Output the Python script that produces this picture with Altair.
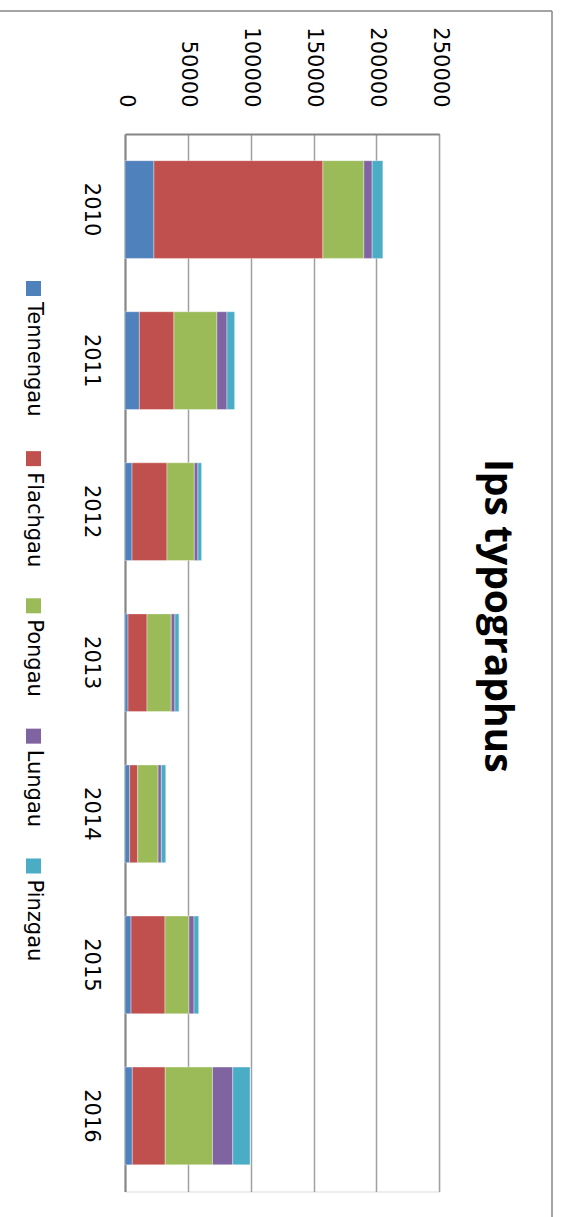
import altair as alt
import pandas as pd

# Bark beetle (Ips typographus) volumes per district and year
years = ["2010", "2011", "2012", "2013", "2014", "2015", "2016"]
regions = ["Tennengau", "Flachgau", "Pongau", "Lungau", "Pinzgau"]
colors = ["#4F81BD", "#C0504D", "#9BBB59", "#8064A2", "#4BACC6"]

tennengau = [23000, 11400, 5600, 2400, 3700, 4800, 5800]
flachgau = [134400, 27500, 27800, 15100, 6400, 27000, 26200]
pongau = [32600, 34200, 21700, 19300, 16200, 19100, 37600]
lungau = [6600, 8000, 2900, 2900, 2600, 4000, 16100]
pinzgau = [8500, 6100, 2900, 3200, 3500, 3700, 13800]

value_ticks = [0, 50000, 100000, 150000, 200000, 250000]

series = [tennengau, flachgau, pongau, lungau, pinzgau]
rows = []
for k, (name, vals) in enumerate(zip(regions, series)):
    for yr, v in zip(years, vals):
        rows.append({"year": yr, "region": name, "value": v, "order": k})
df = pd.DataFrame(rows)

# layout of the plot area
W, H = 314.3, 1057.5
PAD_L, PAD_T = 125, 134
FONT = "DejaVu Sans"
FS = 21
GRID = "#a0a0a0"
LINE = "#868686"

color_scale = alt.Scale(domain=regions, range=colors)

bars = alt.Chart(df).mark_bar(stroke="white", strokeWidth=0.6, strokeOpacity=0.6).encode(
    x=alt.X(
        "value:Q",
        stack="zero",
        scale=alt.Scale(domain=[0, 250000], nice=False),
        axis=alt.Axis(
            orient="top", values=value_ticks, format="d", title=None,
            labelAngle=90, labelAlign="right", labelBaseline="middle",
            labelPadding=27, tickSize=0, ticks=False, labelFlush=False,
            labelFont=FONT, labelFontSize=FS, labelColor="black",
            domainColor=LINE, domainWidth=2,
            grid=True, gridColor=GRID, gridWidth=1.5,
        ),
    ),
    y=alt.Y(
        "year:N",
        sort=years,
        scale=alt.Scale(paddingInner=0.353, paddingOuter=0.1765),
        axis=alt.Axis(
            title=None, labelAngle=90, labelAlign="center", labelBaseline="top",
            labelPadding=24, tickSize=0, ticks=False,
            labelFont=FONT, labelFontSize=FS, labelColor="black",
            domainColor=LINE, domainWidth=2, grid=False,
        ),
    ),
    color=alt.Color("region:N", scale=color_scale, legend=None),
    order=alt.Order("order:Q", sort="ascending"),
)

# legend entries laid out along the left edge, rotated like the rest of the chart
ADV = {"T": 0.611, "e": 0.615, "n": 0.634, "g": 0.635, "a": 0.613, "u": 0.634,
       "F": 0.575, "l": 0.278, "c": 0.550, "h": 0.634, "P": 0.603, "o": 0.612,
       "L": 0.557, "i": 0.278, "z": 0.525}
SYM, GAP, SEP = 15, 6, 31
start = 147.0
leg_rows = []
for name in regions:
    tw = sum(ADV.get(ch, 0.6) for ch in name) * FS
    leg_rows.append({"region": name, "sq": start + SYM / 2, "tx": start + SYM + GAP})
    start += SYM + GAP + tw + SEP
leg = pd.DataFrame(leg_rows)
LEG_X = -91.5

leg_sq = alt.Chart(leg).mark_square(size=SYM * SYM, opacity=1).encode(
    x=alt.value(LEG_X),
    y=alt.Y("sq:Q", scale=None, axis=None),
    color=alt.Color("region:N", scale=color_scale, legend=None),
)
leg_tx = alt.Chart(leg).mark_text(
    angle=90, align="left", baseline="middle", font=FONT, fontSize=FS, color="black"
).encode(
    x=alt.value(LEG_X),
    y=alt.Y("tx:Q", scale=None, axis=None),
    text="region:N",
)

# chart-area frame edges (top and right)
one = pd.DataFrame({"k": [0]})
frame_top = alt.Chart(one).mark_rule(color=LINE, strokeWidth=1.5).encode(
    x=alt.value(-PAD_L), x2=alt.value(427), y=alt.value(-123)
)
frame_right = alt.Chart(one).mark_rule(color=LINE, strokeWidth=1.5).encode(
    x=alt.value(427), y=alt.value(-123), y2=alt.value(1083)
)

chart = alt.layer(bars, leg_sq, leg_tx, frame_top, frame_right).properties(
    width=W,
    height=H,
    autosize=alt.AutoSizeParams(type="none"),
    padding={"left": PAD_L, "top": PAD_T, "right": 563 - PAD_L - W, "bottom": 1217 - PAD_T - H},
    title=alt.TitleParams(
        "Ips typographus", orient="right", anchor="middle", frame="group",
        font="Open Sans", fontSize=39, fontWeight="bold", color="black",
        offset=-76, dx=-47,
    ),
).configure_view(stroke=None).configure(background="white")

chart.save("out.html", embed_options={"renderer": "svg", "actions": False})
